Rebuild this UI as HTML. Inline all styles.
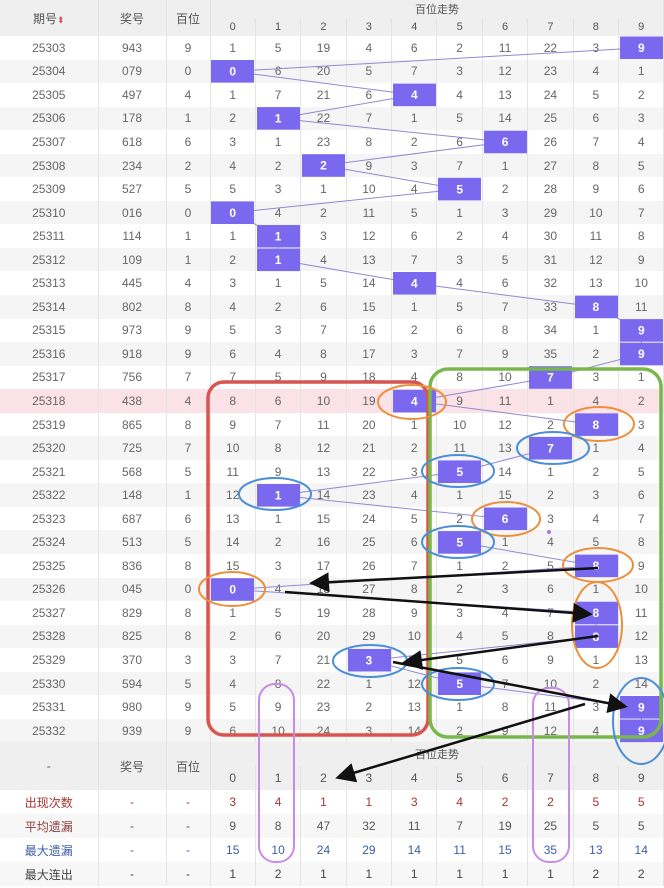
<!DOCTYPE html>
<html><head><meta charset="utf-8">
<style>
*{margin:0;padding:0;box-sizing:border-box}
body{width:664px;height:888px;overflow:hidden;background:#fff;font-family:"Liberation Sans","Noto Sans CJK SC",sans-serif;font-size:12px;color:#666;position:relative}
table{border-collapse:collapse;table-layout:fixed;width:664px;position:absolute;left:0}
td{text-align:center;padding:0;border-right:1px solid #e4e4e4;white-space:nowrap;overflow:hidden}
#t1{top:0}
#t1 .hd td{background:#efefef;color:#555;height:18px;font-size:11px}
#t1 .hd td.big{font-size:12px}
#t1 .d td{height:23.55px}
#t1 .d:nth-child(even) td{background:#f5f5f5}
#t1 tr.pk td{background:#fbe2e6 !important}
#t2{top:742px}
#t2 .hd td{background:#efefef;color:#555;height:24px;font-size:12px}
#t2 .s td{height:24px;background:#fff}
#t2 .s:nth-child(even) td{background:#f7f7f7}
.r td{color:#a33}
.a td{color:#555}.a td:first-child{color:#8b3a3a}
.b td{color:#3d5ca8}
.c td{color:#444}
svg{position:absolute;left:0;top:0}
</style></head><body>
<table id="t1">
<colgroup><col style="width:98px"><col style="width:68px"><col style="width:44px"><col span="10" style="width:45.4px"></colgroup>
<tr class="hd"><td rowspan="2" class="big">期号<span style="color:#c55;font-size:9px">⬍</span></td><td rowspan="2" class="big">奖号</td><td rowspan="2" class="big">百位</td><td colspan="10">百位走势</td></tr>
<tr class="hd"><td>0</td><td>1</td><td>2</td><td>3</td><td>4</td><td>5</td><td>6</td><td>7</td><td>8</td><td>9</td></tr>
<tr class="d"><td>25303</td><td>943</td><td>9</td><td>1</td><td>5</td><td>19</td><td>4</td><td>6</td><td>2</td><td>11</td><td>22</td><td>3</td><td>9</td></tr>
<tr class="d"><td>25304</td><td>079</td><td>0</td><td>0</td><td>6</td><td>20</td><td>5</td><td>7</td><td>3</td><td>12</td><td>23</td><td>4</td><td>1</td></tr>
<tr class="d"><td>25305</td><td>497</td><td>4</td><td>1</td><td>7</td><td>21</td><td>6</td><td>4</td><td>4</td><td>13</td><td>24</td><td>5</td><td>2</td></tr>
<tr class="d"><td>25306</td><td>178</td><td>1</td><td>2</td><td>1</td><td>22</td><td>7</td><td>1</td><td>5</td><td>14</td><td>25</td><td>6</td><td>3</td></tr>
<tr class="d"><td>25307</td><td>618</td><td>6</td><td>3</td><td>1</td><td>23</td><td>8</td><td>2</td><td>6</td><td>6</td><td>26</td><td>7</td><td>4</td></tr>
<tr class="d"><td>25308</td><td>234</td><td>2</td><td>4</td><td>2</td><td>2</td><td>9</td><td>3</td><td>7</td><td>1</td><td>27</td><td>8</td><td>5</td></tr>
<tr class="d"><td>25309</td><td>527</td><td>5</td><td>5</td><td>3</td><td>1</td><td>10</td><td>4</td><td>5</td><td>2</td><td>28</td><td>9</td><td>6</td></tr>
<tr class="d"><td>25310</td><td>016</td><td>0</td><td>0</td><td>4</td><td>2</td><td>11</td><td>5</td><td>1</td><td>3</td><td>29</td><td>10</td><td>7</td></tr>
<tr class="d"><td>25311</td><td>114</td><td>1</td><td>1</td><td>1</td><td>3</td><td>12</td><td>6</td><td>2</td><td>4</td><td>30</td><td>11</td><td>8</td></tr>
<tr class="d"><td>25312</td><td>109</td><td>1</td><td>2</td><td>1</td><td>4</td><td>13</td><td>7</td><td>3</td><td>5</td><td>31</td><td>12</td><td>9</td></tr>
<tr class="d"><td>25313</td><td>445</td><td>4</td><td>3</td><td>1</td><td>5</td><td>14</td><td>4</td><td>4</td><td>6</td><td>32</td><td>13</td><td>10</td></tr>
<tr class="d"><td>25314</td><td>802</td><td>8</td><td>4</td><td>2</td><td>6</td><td>15</td><td>1</td><td>5</td><td>7</td><td>33</td><td>8</td><td>11</td></tr>
<tr class="d"><td>25315</td><td>973</td><td>9</td><td>5</td><td>3</td><td>7</td><td>16</td><td>2</td><td>6</td><td>8</td><td>34</td><td>1</td><td>9</td></tr>
<tr class="d"><td>25316</td><td>918</td><td>9</td><td>6</td><td>4</td><td>8</td><td>17</td><td>3</td><td>7</td><td>9</td><td>35</td><td>2</td><td>9</td></tr>
<tr class="d"><td>25317</td><td>756</td><td>7</td><td>7</td><td>5</td><td>9</td><td>18</td><td>4</td><td>8</td><td>10</td><td>7</td><td>3</td><td>1</td></tr>
<tr class="d pk"><td>25318</td><td>438</td><td>4</td><td>8</td><td>6</td><td>10</td><td>19</td><td>4</td><td>9</td><td>11</td><td>1</td><td>4</td><td>2</td></tr>
<tr class="d"><td>25319</td><td>865</td><td>8</td><td>9</td><td>7</td><td>11</td><td>20</td><td>1</td><td>10</td><td>12</td><td>2</td><td>8</td><td>3</td></tr>
<tr class="d"><td>25320</td><td>725</td><td>7</td><td>10</td><td>8</td><td>12</td><td>21</td><td>2</td><td>11</td><td>13</td><td>7</td><td>1</td><td>4</td></tr>
<tr class="d"><td>25321</td><td>568</td><td>5</td><td>11</td><td>9</td><td>13</td><td>22</td><td>3</td><td>5</td><td>14</td><td>1</td><td>2</td><td>5</td></tr>
<tr class="d"><td>25322</td><td>148</td><td>1</td><td>12</td><td>1</td><td>14</td><td>23</td><td>4</td><td>1</td><td>15</td><td>2</td><td>3</td><td>6</td></tr>
<tr class="d"><td>25323</td><td>687</td><td>6</td><td>13</td><td>1</td><td>15</td><td>24</td><td>5</td><td>2</td><td>6</td><td>3</td><td>4</td><td>7</td></tr>
<tr class="d"><td>25324</td><td>513</td><td>5</td><td>14</td><td>2</td><td>16</td><td>25</td><td>6</td><td>5</td><td>1</td><td>4</td><td>5</td><td>8</td></tr>
<tr class="d"><td>25325</td><td>836</td><td>8</td><td>15</td><td>3</td><td>17</td><td>26</td><td>7</td><td>1</td><td>2</td><td>5</td><td>8</td><td>9</td></tr>
<tr class="d"><td>25326</td><td>045</td><td>0</td><td>0</td><td>4</td><td>18</td><td>27</td><td>8</td><td>2</td><td>3</td><td>6</td><td>1</td><td>10</td></tr>
<tr class="d"><td>25327</td><td>829</td><td>8</td><td>1</td><td>5</td><td>19</td><td>28</td><td>9</td><td>3</td><td>4</td><td>7</td><td>8</td><td>11</td></tr>
<tr class="d"><td>25328</td><td>825</td><td>8</td><td>2</td><td>6</td><td>20</td><td>29</td><td>10</td><td>4</td><td>5</td><td>8</td><td>8</td><td>12</td></tr>
<tr class="d"><td>25329</td><td>370</td><td>3</td><td>3</td><td>7</td><td>21</td><td>3</td><td>11</td><td>5</td><td>6</td><td>9</td><td>1</td><td>13</td></tr>
<tr class="d"><td>25330</td><td>594</td><td>5</td><td>4</td><td>8</td><td>22</td><td>1</td><td>12</td><td>5</td><td>7</td><td>10</td><td>2</td><td>14</td></tr>
<tr class="d"><td>25331</td><td>980</td><td>9</td><td>5</td><td>9</td><td>23</td><td>2</td><td>13</td><td>1</td><td>8</td><td>11</td><td>3</td><td>9</td></tr>
<tr class="d"><td>25332</td><td>939</td><td>9</td><td>6</td><td>10</td><td>24</td><td>3</td><td>14</td><td>2</td><td>9</td><td>12</td><td>4</td><td>9</td></tr>
</table>
<table id="t2">
<colgroup><col style="width:98px"><col style="width:68px"><col style="width:44px"><col span="10" style="width:45.4px"></colgroup>
<tr class="hd"><td rowspan="2">-</td><td rowspan="2">奖号</td><td rowspan="2">百位</td><td colspan="10" style="font-size:11px">百位走势</td></tr>
<tr class="hd"><td>0</td><td>1</td><td>2</td><td>3</td><td>4</td><td>5</td><td>6</td><td>7</td><td>8</td><td>9</td></tr>
<tr class="s r"><td>出现次数</td><td>-</td><td>-</td><td>3</td><td>4</td><td>1</td><td>1</td><td>3</td><td>4</td><td>2</td><td>2</td><td>5</td><td>5</td></tr>
<tr class="s a"><td>平均遗漏</td><td>-</td><td>-</td><td>9</td><td>8</td><td>47</td><td>32</td><td>11</td><td>7</td><td>19</td><td>25</td><td>5</td><td>5</td></tr>
<tr class="s b"><td>最大遗漏</td><td>-</td><td>-</td><td>15</td><td>10</td><td>24</td><td>29</td><td>14</td><td>11</td><td>15</td><td>35</td><td>13</td><td>14</td></tr>
<tr class="s c"><td>最大连出</td><td>-</td><td>-</td><td>1</td><td>2</td><td>1</td><td>1</td><td>1</td><td>1</td><td>1</td><td>1</td><td>2</td><td>2</td></tr>
</table>
<svg width="664" height="888" viewBox="0 0 664 888" font-family="Liberation Sans, sans-serif" font-size="12">
<defs><marker id="ah" markerWidth="8" markerHeight="8" refX="6" refY="4" orient="auto" markerUnits="strokeWidth"><path d="M0,0 L8,4 L0,8 z" fill="#111"/></marker></defs>
<polyline fill="none" stroke="#9088d6" stroke-width="1" points="641.3,47.8 232.7,71.3 414.3,94.9 278.1,118.4 505.1,142 323.5,165.5 459.7,189.1 232.7,212.7 278.1,236.2 278.1,259.8 414.3,283.3 595.9,306.9 641.3,330.4 641.3,354 550.5,377.5 414.3,401.1 595.9,424.6 550.5,448.2 459.7,471.7 278.1,495.3 505.1,518.8 459.7,542.4 595.9,565.9 232.7,589.5 595.9,613 595.9,636.6 368.9,660.2 459.7,683.7 641.3,707.3 641.3,730.8"/>
<g fill="#7a68ee">
<rect x="620" y="36.5" width="43" height="22.6"/><rect x="211" y="60" width="43" height="22.6"/><rect x="393" y="83.6" width="43" height="22.6"/><rect x="257" y="107.1" width="43" height="22.6"/><rect x="484" y="130.7" width="43" height="22.6"/><rect x="302" y="154.2" width="43" height="22.6"/><rect x="438" y="177.8" width="43" height="22.6"/><rect x="211" y="201.4" width="43" height="22.6"/><rect x="257" y="224.9" width="43" height="22.6"/><rect x="257" y="248.5" width="43" height="22.6"/><rect x="393" y="272" width="43" height="22.6"/><rect x="575" y="295.6" width="43" height="22.6"/><rect x="620" y="319.1" width="43" height="22.6"/><rect x="620" y="342.7" width="43" height="22.6"/><rect x="529" y="366.2" width="43" height="22.6"/><rect x="393" y="389.8" width="43" height="22.6"/><rect x="575" y="413.3" width="43" height="22.6"/><rect x="529" y="436.9" width="43" height="22.6"/><rect x="438" y="460.4" width="43" height="22.6"/><rect x="257" y="484" width="43" height="22.6"/><rect x="484" y="507.5" width="43" height="22.6"/><rect x="438" y="531.1" width="43" height="22.6"/><rect x="575" y="554.6" width="43" height="22.6"/><rect x="211" y="578.2" width="43" height="22.6"/><rect x="575" y="601.7" width="43" height="22.6"/><rect x="575" y="625.3" width="43" height="22.6"/><rect x="348" y="648.9" width="43" height="22.6"/><rect x="438" y="672.4" width="43" height="22.6"/><rect x="620" y="696" width="43" height="22.6"/><rect x="620" y="719.5" width="43" height="22.6"/>
</g>
<g fill="#fff" text-anchor="middle" font-weight="bold">
<text x="641.3" y="52">9</text><text x="232.7" y="75.5">0</text><text x="414.3" y="99">4</text><text x="278.1" y="122.6">1</text><text x="505.1" y="146.2">6</text><text x="323.5" y="169.7">2</text><text x="459.7" y="193.3">5</text><text x="232.7" y="216.9">0</text><text x="278.1" y="240.4">1</text><text x="278.1" y="264">1</text><text x="414.3" y="287.5">4</text><text x="595.9" y="311.1">8</text><text x="641.3" y="334.6">9</text><text x="641.3" y="358.2">9</text><text x="550.5" y="381.7">7</text><text x="414.3" y="405.3">4</text><text x="595.9" y="428.8">8</text><text x="550.5" y="452.4">7</text><text x="459.7" y="475.9">5</text><text x="278.1" y="499.5">1</text><text x="505.1" y="523">6</text><text x="459.7" y="546.6">5</text><text x="595.9" y="570.1">8</text><text x="232.7" y="593.7">0</text><text x="595.9" y="617.2">8</text><text x="595.9" y="640.8">8</text><text x="368.9" y="664.4">3</text><text x="459.7" y="687.9">5</text><text x="641.3" y="711.5">9</text><text x="641.3" y="735">9</text>
</g>
<rect x="208" y="382" width="220" height="353" rx="16" fill="none" stroke="#d9534f" stroke-width="3.5"/>
<rect x="430" y="369" width="231" height="368" rx="18" fill="none" stroke="#78b84a" stroke-width="3.5"/>
<rect x="259" y="684" width="35" height="178" rx="16" fill="none" stroke="#c98ae8" stroke-width="2"/>
<rect x="533" y="688" width="36" height="174" rx="16" fill="none" stroke="#c98ae8" stroke-width="2"/>
<g fill="none" stroke="#ec8f3a" stroke-width="2">
<ellipse cx="412" cy="402" rx="34" ry="17"/><ellipse cx="599" cy="424" rx="35" ry="17"/><ellipse cx="506" cy="519" rx="34" ry="17"/><ellipse cx="598" cy="565" rx="35" ry="17"/><ellipse cx="232" cy="589" rx="33" ry="17"/><ellipse cx="597" cy="625" rx="25" ry="43"/>
</g>
<g fill="none" stroke="#4a8ed8" stroke-width="2">
<ellipse cx="553" cy="448" rx="36" ry="16"/><ellipse cx="458" cy="471" rx="36" ry="16"/><ellipse cx="275" cy="494" rx="36" ry="16"/><ellipse cx="458" cy="542" rx="36" ry="16"/><ellipse cx="370" cy="661" rx="37" ry="16"/><ellipse cx="458" cy="684" rx="36" ry="16"/><ellipse cx="641" cy="721" rx="28" ry="43"/>
</g>
<g stroke="#111" stroke-width="2.5" marker-end="url(#ah)">
<line x1="598" y1="568" x2="314" y2="583"/>
<line x1="285" y1="592" x2="588" y2="614"/>
<line x1="598" y1="636" x2="407" y2="662"/>
<line x1="393" y1="662" x2="623" y2="706"/>
<line x1="585" y1="704" x2="340" y2="777"/>
</g>
<circle cx="549" cy="532" r="2" fill="#b070e0"/>
</svg>
</body></html>
